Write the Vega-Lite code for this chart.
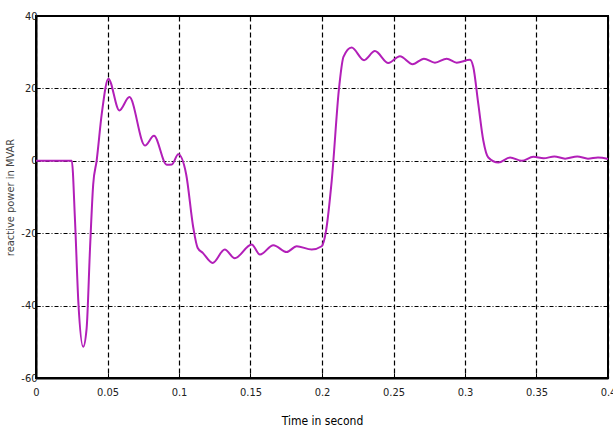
{
  "$schema": "https://vega.github.io/schema/vega-lite/v6.json",
  "width": 572,
  "height": 362,
  "autosize": "none",
  "padding": {"left": 36, "top": 16, "right": 5, "bottom": 54},
  "background": "white",
  "config": {
    "view": {"stroke": "black", "strokeWidth": 2},
    "font": "DejaVu Sans Condensed, Liberation Sans, sans-serif"
  },
  "data": {
    "values": [
      {"t": 0, "q": 0},
      {"t": 0.025, "q": 0},
      {"t": 0.0273, "q": -16.7},
      {"t": 0.0296, "q": -38.9},
      {"t": 0.033, "q": -51.4},
      {"t": 0.0354, "q": -46.3},
      {"t": 0.0378, "q": -24},
      {"t": 0.04, "q": -6.5},
      {"t": 0.0424, "q": 0},
      {"t": 0.046, "q": 13},
      {"t": 0.0506, "q": 22.7},
      {"t": 0.0583, "q": 13.9},
      {"t": 0.0653, "q": 17.6},
      {"t": 0.0762, "q": 4.2},
      {"t": 0.0825, "q": 6.9},
      {"t": 0.0914, "q": -1.1},
      {"t": 0.095, "q": -1},
      {"t": 0.0995, "q": 1.8},
      {"t": 0.105, "q": -3.7},
      {"t": 0.11, "q": -18.5},
      {"t": 0.113, "q": -24},
      {"t": 0.1168, "q": -25.5},
      {"t": 0.1235, "q": -28.2},
      {"t": 0.132, "q": -24.5},
      {"t": 0.139, "q": -26.9},
      {"t": 0.1508, "q": -23.1},
      {"t": 0.1566, "q": -25.9},
      {"t": 0.166, "q": -23.3},
      {"t": 0.1753, "q": -25.2},
      {"t": 0.1823, "q": -23.6},
      {"t": 0.1928, "q": -24.5},
      {"t": 0.1998, "q": -23.6},
      {"t": 0.2028, "q": -19.4},
      {"t": 0.2068, "q": -5.5},
      {"t": 0.212, "q": 20.4},
      {"t": 0.215, "q": 28.7},
      {"t": 0.2207, "q": 31.3},
      {"t": 0.2294, "q": 27.8},
      {"t": 0.237, "q": 30.3},
      {"t": 0.2464, "q": 27.0},
      {"t": 0.2545, "q": 28.9},
      {"t": 0.2634, "q": 26.7},
      {"t": 0.2713, "q": 28.2},
      {"t": 0.279, "q": 27.1},
      {"t": 0.2872, "q": 28.2},
      {"t": 0.2942, "q": 27.1},
      {"t": 0.3035, "q": 27.9},
      {"t": 0.3058, "q": 25.9},
      {"t": 0.3093, "q": 15.7},
      {"t": 0.3128, "q": 5.6},
      {"t": 0.3163, "q": 0.9},
      {"t": 0.3233, "q": -0.5},
      {"t": 0.3315, "q": 0.9},
      {"t": 0.3397, "q": 0},
      {"t": 0.3478, "q": 1.1},
      {"t": 0.355, "q": 0.7},
      {"t": 0.3625, "q": 1.2},
      {"t": 0.37, "q": 0.6},
      {"t": 0.3785, "q": 1.2},
      {"t": 0.386, "q": 0.6},
      {"t": 0.393, "q": 0.9},
      {"t": 0.4, "q": 0.5}
    ]
  },
  "mark": {"type": "line", "color": "#B21FB8", "strokeWidth": 2, "interpolate": "monotone"},
  "encoding": {
    "x": {
      "field": "t",
      "type": "quantitative",
      "scale": {"domain": [0, 0.4], "nice": false, "zero": false},
      "axis": {
        "values": [0, 0.05, 0.1, 0.15, 0.2, 0.25, 0.3, 0.35, 0.4],
        "format": "~g",
        "title": "Time in second",
        "titleFontSize": 12,
        "titleFontWeight": "normal",
        "titleColor": "black",
        "titlePadding": 18,
        "labelFontSize": 11,
        "labelColor": "#222",
        "labelFlush": false,
        "labelPadding": 13,
        "domainColor": "black",
        "domainWidth": 2,
        "tickColor": "black",
        "tickSize": -5,
        "grid": true,
        "gridColor": "black",
        "gridDash": [5, 3],
        "gridWidth": 1.2
      }
    },
    "y": {
      "field": "q",
      "type": "quantitative",
      "scale": {"domain": [-60, 40], "nice": false, "zero": false},
      "axis": {
        "values": [-60, -40, -20, 0, 20, 40],
        "labelExpr": "'' + datum.value",
        "title": "reactive power in MVAR",
        "titleFontSize": 11,
        "titleFontWeight": "normal",
        "titleColor": "#444",
        "titlePadding": 5,
        "labelFontSize": 11,
        "labelColor": "#222",
        "labelPadding": 3,
        "labelFlush": false,
        "domainColor": "black",
        "domainWidth": 2,
        "tickColor": "black",
        "tickSize": -4,
        "grid": true,
        "gridColor": "black",
        "gridDash": [4, 2, 1, 2],
        "gridWidth": 1.2
      }
    }
  }
}
